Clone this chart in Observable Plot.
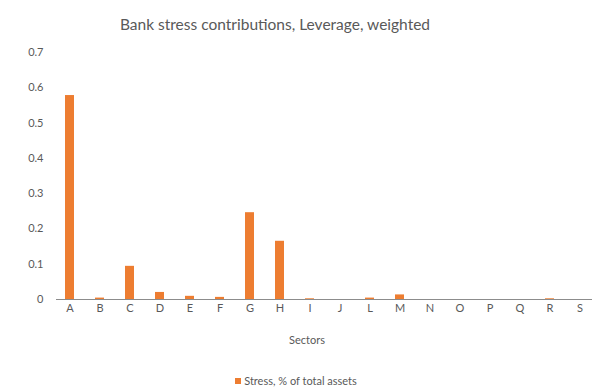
<!DOCTYPE html>
<html>
<head>
<meta charset="utf-8">
<script src="https://cdn.jsdelivr.net/npm/d3@7"></script>
<script src="https://cdn.jsdelivr.net/npm/@observablehq/plot@0.6"></script>
<style>
  body { margin: 0; background: #fff; }
  #wrap { position: relative; width: 592px; height: 387px; font-family: Lato, "Open Sans", sans-serif; color: #595959; }
  #title { position: absolute; left: 0; width: 550px; top: 15px; text-align: center; font-size: 15.5px; }
  #xlabel { position: absolute; left: 56px; width: 502px; top: 333px; text-align: center; font-size: 11px; }
  #legend { position: absolute; left: 0; width: 592px; top: 374px; text-align: center; font-size: 11px; }
  #legend .sw { display: inline-block; width: 6px; height: 6px; background: #ED7D31; margin-right: 3px; vertical-align: 1px; }
  svg { position: absolute; left: 0; top: 0; }
</style>
</head>
<body>
<div id="wrap">
  <div id="title">Bank stress contributions, Leverage, weighted</div>
  <div id="chart"></div>
  <div id="xlabel">Sectors</div>
  <div id="legend"><span class="sw"></span>Stress, % of total assets</div>
</div>
<script>
const sectors = ["A","B","C","D","E","F","G","H","I","J","L","M","N","O","P","Q","R","S"];
const stress = [0.578, 0.004, 0.094, 0.02, 0.009, 0.006, 0.246, 0.165, 0.002, 0, 0.004, 0.013, 0, 0, 0, 0, 0.002, 0];
const yTicks = [0, 0.1, 0.2, 0.3, 0.4, 0.5, 0.6, 0.7];

const data = sectors.map((s, i) => ({sector: s, value: stress[i]}));

const chart = Plot.plot({
  width: 592,
  height: 387,
  marginTop: 52,
  marginBottom: 88,
  marginLeft: 56,
  marginRight: 0,
  style: {fontFamily: "Lato, 'Open Sans', sans-serif", fontSize: "11px", color: "#595959", background: "transparent"},
  x: {domain: sectors, paddingInner: 0.7, paddingOuter: 0.28, label: null, tickSize: 0, tickPadding: 5},
  y: {domain: [0, 0.7], ticks: yTicks, tickFormat: d => d === 0 ? "0" : d3.format(".1f")(d), label: null, tickSize: 0, tickPadding: 13},
  marks: [
    Plot.barY(data, {x: "sector", y: "value", fill: "#ED7D31"}),
    Plot.ruleY([0], {stroke: "#8c8c8c", strokeWidth: 1})
  ]
});
document.getElementById("chart").appendChild(chart);
</script>
</body>
</html>
